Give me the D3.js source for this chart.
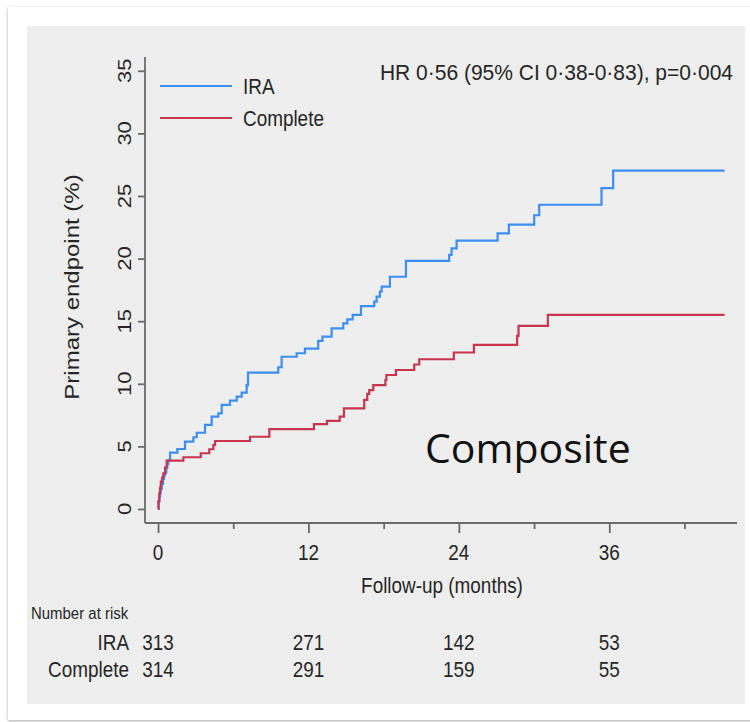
<!DOCTYPE html>
<html>
<head>
<meta charset="utf-8">
<script src="https://cdn.jsdelivr.net/npm/d3@7"></script>
<style>
  html, body { margin: 0; padding: 0; background: #ffffff; }
  svg { display: block; }
  text { font-family: "Liberation Sans", Arial, sans-serif; fill: #262626; }
</style>
</head>
<body>
<svg id="chart" width="750" height="722"></svg>
<script>
// Cumulative incidence of the primary endpoint (Kaplan–Meier style step curves)
const iraTime = [0, 0.05, 0.1, 0.16, 0.22, 0.3, 0.4, 0.48, 0.56, 0.66, 0.74, 0.82, 0.96, 1.54, 2.15, 2.82, 3.09, 3.75, 4.28, 4.81, 5.08, 5.74, 6.28, 6.67, 7.07, 7.18, 9.59, 9.86, 11.06, 11.72, 12.78, 13.12, 13.85, 14.78, 15.1, 15.53, 16.19, 17.25, 17.44, 17.7, 17.84, 18.5, 19.78, 23.23, 23.42, 23.82, 27.09, 27.99, 30.01, 30.41, 35.38, 36.31, 45.2];
const iraValue = [0, 0.6, 1.0, 1.3, 1.6, 2.0, 2.4, 2.7, 2.9, 3.3, 3.6, 3.9, 4.5, 4.79, 5.38, 5.73, 6.09, 6.71, 7.37, 7.64, 8.31, 8.65, 8.97, 9.29, 9.9, 10.89, 11.32, 12.16, 12.44, 12.8, 13.42, 13.76, 14.43, 14.83, 15.15, 15.5, 16.21, 16.56, 16.96, 17.36, 17.76, 18.55, 19.81, 20.29, 20.82, 21.43, 22.02, 22.71, 23.46, 24.3, 25.62, 27.02, 27.02];

const completeTime = [0, 0.03, 0.1, 0.16, 0.22, 0.32, 0.42, 0.56, 0.69, 2.02, 3.41, 4.09, 4.41, 4.55, 7.34, 8.88, 12.44, 13.48, 14.49, 14.83, 16.45, 16.69, 16.85, 17.17, 18.14, 18.22, 18.98, 20.44, 20.84, 23.6, 25.2, 28.65, 28.76, 31.1, 45.2];
const completeValue = [0, 0.6, 1.25, 1.7, 2.18, 2.5, 2.85, 3.33, 3.86, 4.13, 4.45, 4.77, 5.11, 5.43, 5.77, 6.37, 6.77, 7.03, 7.37, 8.04, 8.71, 9.19, 9.5, 9.9, 10.3, 10.7, 11.1, 11.54, 11.96, 12.5, 13.1, 13.82, 14.62, 15.5, 15.5];

const seriesNames = ["IRA", "Complete"];
const seriesColors = ["#3b8ef3", "#c9344f"];

const yTicks = [0, 5, 10, 15, 20, 25, 30, 35];
const xMajorTicks = [0, 12, 24, 36];
const xMinorTicks = [6, 18, 30, 42];

const riskTimes = [0, 12, 24, 36];
const iraRisk = [313, 271, 142, 53];
const completeRisk = [314, 291, 159, 55];

const hrText = "HR 0·56 (95% CI 0·38-0·83), p=0·004";
const xTitle = "Follow-up (months)";
const yTitle = "Primary endpoint (%)";
const panelLabel = "Composite";

const svg = d3.select("#chart");
const NARROW = 0.86;   // horizontal squeeze of the condensed label face

// Card with soft shadow, then grey plot region
const defs = svg.append("defs");
const f = defs.append("filter").attr("id", "shadow").attr("x", "-5%").attr("y", "-5%").attr("width", "110%").attr("height", "110%");
f.append("feDropShadow").attr("dx", 0).attr("dy", 1).attr("stdDeviation", 1.6).attr("flood-color", "#000").attr("flood-opacity", 0.35);

svg.append("rect").attr("x", 8).attr("y", 7).attr("width", 760).attr("height", 713)
  .attr("fill", "#ffffff").attr("filter", "url(#shadow)");
svg.append("rect").attr("x", 27).attr("y", 26).attr("width", 718).attr("height", 678).attr("fill", "#eeeeee");

// Scales
const x = d3.scaleLinear().domain([-1.04, 46.19]).range([145, 737]);
const y = d3.scaleLinear().domain([-1.12, 36.1]).range([523, 57]);

function label(g, txt, px, py, opts = {}) {
  const t = g.append("text")
    .attr("transform", opts.rotate
      ? `translate(${px},${py}) rotate(-90) scale(1,${opts.sy || NARROW})`
      : `translate(${px},${py}) scale(${opts.sx || NARROW},1)`)
    .attr("text-anchor", opts.anchor || "start")
    .attr("font-size", opts.size || 22)
    .text(txt);
  return t;
}

const axisColor = "#6a6a6a";

// Y axis
const yAxis = svg.append("g").attr("transform", "translate(145,0)")
  .call(d3.axisLeft(y).tickValues(yTicks).tickSize(7).tickFormat(""));
yAxis.select(".domain").attr("d", `M0,${y.range()[0]}V${y.range()[1]}`);
yTicks.forEach(v => label(svg, String(v), 131, y(v), { rotate: true, anchor: "middle" }));

// X axis
const xAxis = svg.append("g").attr("transform", "translate(0,523)")
  .call(d3.axisBottom(x).tickValues(xMajorTicks).tickSize(10).tickFormat(""));
xAxis.select(".domain").attr("d", `M${x.range()[0]},0H${x.range()[1]}`);
const xMinor = svg.append("g").attr("transform", "translate(0,523)")
  .call(d3.axisBottom(x).tickValues(xMinorTicks).tickSize(6).tickFormat(""));
xMinor.select(".domain").remove();
svg.selectAll(".tick line, .domain").attr("stroke", axisColor).attr("stroke-width", 1.8);
xMajorTicks.forEach(v => label(svg, String(v), x(v), 560, { anchor: "middle" }));

// Axis titles
label(svg, xTitle, 442, 593, { anchor: "middle" });
label(svg, yTitle, 79, 287, { rotate: true, anchor: "middle", size: 24 });

// Curves
const line = d3.line().curve(d3.curveStepAfter).x(d => x(d[0])).y(d => y(d[1]));
const series = [
  d3.zip(iraTime, iraValue),
  d3.zip(completeTime, completeValue)
];
series.forEach((pts, i) => {
  svg.append("path").datum(pts)
    .attr("d", line)
    .attr("fill", "none")
    .attr("stroke", seriesColors[i])
    .attr("stroke-width", 2.2)
    .attr("stroke-linejoin", "miter");
});

// Legend
seriesNames.forEach((name, i) => {
  const ly = 86 + i * 32;
  svg.append("line").attr("x1", 160).attr("x2", 232).attr("y1", ly).attr("y2", ly)
    .attr("stroke", seriesColors[i]).attr("stroke-width", 2.2);
  label(svg, name, 243, ly + 8);
});

// Hazard ratio annotation
label(svg, hrText, 733, 80, { anchor: "end", sx: 0.955 });

// Panel label
svg.append("text").attr("x", 425).attr("y", 463)
  .attr("font-size", 41)
  .style("font-family", "'Open Sans', sans-serif").style("fill", "#111")
  .text(panelLabel);

// Number at risk table
label(svg, "Number at risk", 31, 619, { size: 17, sx: 0.88 });
const riskRows = [iraRisk, completeRisk];
riskRows.forEach((row, r) => {
  const by = 650 + r * 26.5;
  label(svg, seriesNames[r], 129, by, { anchor: "end" });
  row.forEach((n, j) => label(svg, String(n), x(riskTimes[j]), by, { anchor: "middle" }));
});
</script>
</body>
</html>
